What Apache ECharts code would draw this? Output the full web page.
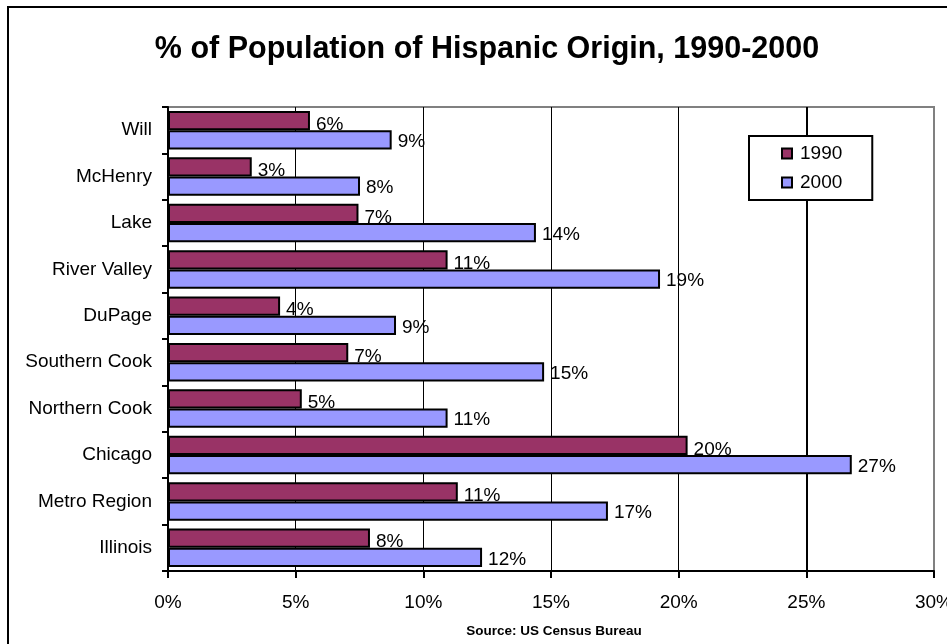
<!DOCTYPE html>
<html>
<head>
<meta charset="utf-8">
<script src="https://cdn.jsdelivr.net/npm/echarts@6/dist/echarts.min.js"></script>
<style>
  html, body { margin: 0; padding: 0; background: #fff; }
  #chart { width: 947px; height: 644px; }
</style>
</head>
<body>
<div id="chart"></div>
<script>
// categories, top to bottom as shown
const regions = ["Will", "McHenry", "Lake", "River Valley", "DuPage", "Southern Cook",
  "Northern Cook", "Chicago", "Metro Region", "Illinois"];
// % hispanic origin
const pct1990 = [5.56, 3.28, 7.46, 10.95, 4.39, 7.06, 5.24, 20.35, 11.35, 7.91];
const pct2000 = [8.76, 7.52, 14.41, 19.27, 8.93, 14.73, 10.95, 26.78, 17.23, 12.3];
const xTicks = [0, 5, 10, 15, 20, 25, 30];

const FONT = "Liberation Sans, Arial, sans-serif";

const chart = echarts.init(document.getElementById("chart"), null, { renderer: "canvas" });

const barLabel = (dy) => ({
  show: true,
  position: "right",
  distance: 6,
  offset: [0, dy],
  color: "#000",
  fontFamily: FONT,
  fontSize: 19,
  formatter: (p) => Math.round(p.value) + "%",
});

const options = {
  backgroundColor: "#fff",
  animation: false,
  textStyle: { fontFamily: FONT },
  title: [
    {
      text: "% of Population of Hispanic Origin, 1990-2000",
      left: 482,
      top: 29,
      textAlign: "center",
      textStyle: { fontFamily: FONT, fontSize: 30.5, fontWeight: "bold", color: "#000" },
    },
    {
      text: "Source: US Census Bureau",
      left: 549,
      top: 619,
      textAlign: "center",
      textStyle: { fontFamily: FONT, fontSize: 13.5, fontWeight: "bold", color: "#000" },
    },
  ],
  graphic: [
    {
      type: "rect",
      shape: { x: 8, y: 7, width: 1000, height: 700 },
      style: { fill: "none", stroke: "#000", lineWidth: 2 },
      silent: true,
    },
  ],
  legend: {
    orient: "vertical",
    left: 749,
    top: 136,
    padding: [8, 30, 8, 32],
    itemGap: 10,
    itemWidth: 10,
    itemHeight: 10,
    icon: "rect",
    backgroundColor: "#fff",
    borderColor: "#000",
    borderWidth: 2,
    textStyle: { fontFamily: FONT, fontSize: 19, color: "#000", padding: [0, 0, 0, 3] },
    data: ["1990", "2000"],
  },
  grid: {
    left: 168,
    top: 107,
    right: 13,
    bottom: 73,
    outerBoundsMode: "none",
    show: true,
    borderColor: "#808080",
    borderWidth: 2,
    backgroundColor: "#fff",
  },
  xAxis: {
    type: "value",
    min: xTicks[0],
    max: xTicks[xTicks.length - 1],
    interval: 5,
    axisLine: { show: true, lineStyle: { color: "#000", width: 2 } },
    axisTick: { show: true, length: 7, lineStyle: { color: "#000", width: 2 } },
    axisLabel: {
      margin: 22,
      color: "#000",
      fontFamily: FONT,
      fontSize: 19,
      formatter: "{value}%",
    },
    splitLine: {
      show: true,
      lineStyle: { color: ["#000", "#000", "#000", "#000", "#000", "#000", "#808080"], width: 1 },
    },
  },
  yAxis: {
    type: "category",
    inverse: true,
    data: regions,
    axisLine: { show: true, lineStyle: { color: "#000", width: 2 } },
    axisTick: { show: true, length: 6, lineStyle: { color: "#000", width: 2 } },
    axisLabel: {
      margin: 16,
      color: "#000",
      fontFamily: FONT,
      fontSize: 19,
    },
  },
  series: [
    {
      name: "1990",
      type: "bar",
      data: pct1990,
      barGap: "0%",
      barCategoryGap: "17%",
      itemStyle: { color: "#993366", borderColor: "#000", borderWidth: 2 },
      label: barLabel(4),
      markLine: {
        silent: true,
        symbol: "none",
        label: { show: false },
        lineStyle: { color: "#000", width: 2, type: "solid" },
        data: [{ xAxis: 25 }],
        z: 1,
      },
      z: 3,
    },
    {
      name: "2000",
      type: "bar",
      data: pct2000,
      barGap: "0%",
      barCategoryGap: "17%",
      itemStyle: { color: "#9999FF", borderColor: "#000", borderWidth: 2 },
      label: barLabel(2),
      z: 3,
    },
  ],
};

chart.setOption(options);
</script>
</body>
</html>
